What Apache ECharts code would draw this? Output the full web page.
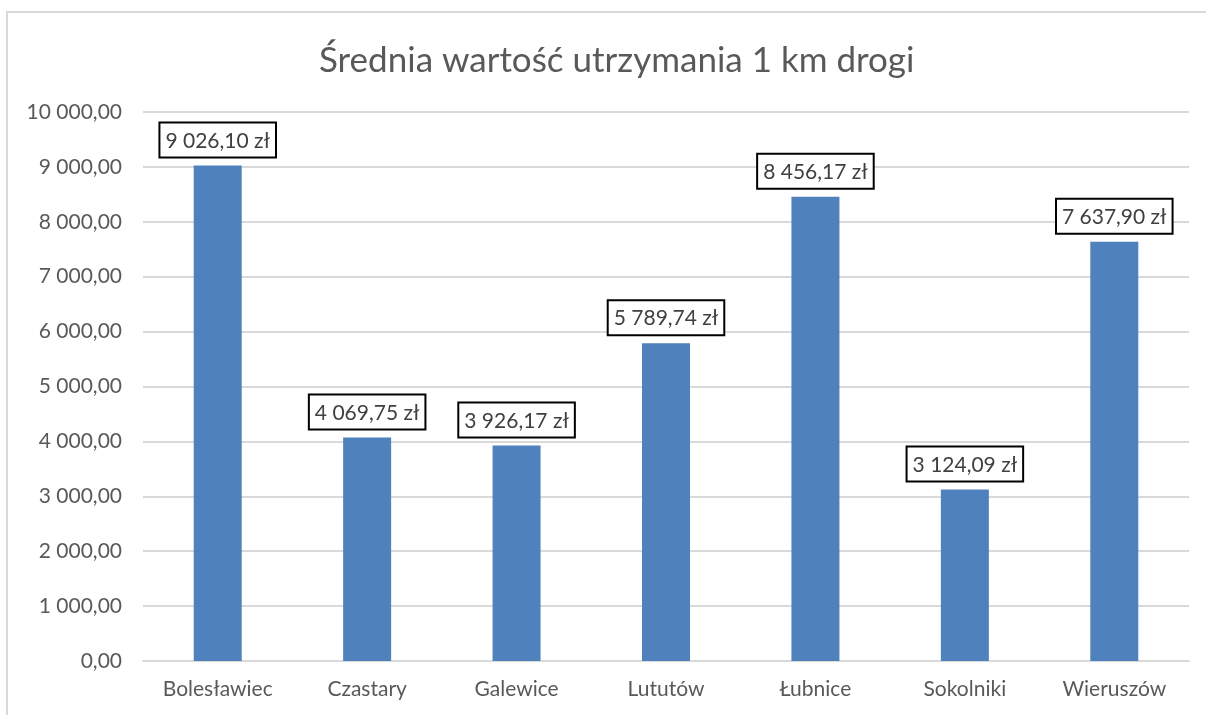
<!DOCTYPE html>
<html>
<head>
<meta charset="utf-8">
<script src="https://cdn.jsdelivr.net/npm/echarts@6/dist/echarts.min.js"></script>
<style>
html,body{margin:0;padding:0;background:#fff;}
#chart{width:1206px;height:715px;}
</style>
</head>
<body>
<div id="chart"></div>
<script>
const title = 'Średnia wartość utrzymania 1 km drogi';
const categories = ['Bolesławiec', 'Czastary', 'Galewice', 'Lututów', 'Łubnice', 'Sokolniki', 'Wieruszów'];
const values = [9026.10, 4069.75, 3926.17, 5789.74, 8456.17, 3124.09, 7637.90];
const yMin = 0, yMax = 10000, yStep = 1000;

function fmt(v) {
  const parts = v.toFixed(2).split('.');
  const intPart = parts[0].replace(/\B(?=(\d{3})+(?!\d))/g, ' ');
  return intPart + ',' + parts[1];
}

const FONT = 'Lato, "Noto Sans", sans-serif';
const chart = echarts.init(document.getElementById('chart'));
chart.setOption({
  animation: false,
  backgroundColor: '#ffffff',
  title: {
    text: title,
    left: 314,
    top: 38,
    textStyle: { fontFamily: FONT, fontSize: 35, fontWeight: 'normal', color: '#595959' }
  },
  graphic: [{
    type: 'rect',
    shape: { x: 7, y: 12, width: 1300, height: 800 },
    style: { fill: 'none', stroke: '#d9d9d9', lineWidth: 2 },
    silent: true
  }],
  grid: { left: 143, right: 17, top: 112, bottom: 54, containLabel: false },
  xAxis: {
    type: 'category',
    data: categories,
    axisLine: { lineStyle: { color: '#d9d9d9', width: 2 } },
    axisTick: { show: false },
    axisLabel: { fontFamily: FONT, fontSize: 21, color: '#595959', margin: 18, interval: 0 }
  },
  yAxis: {
    type: 'value',
    min: yMin, max: yMax, interval: yStep,
    axisLine: { show: false },
    axisTick: { show: false },
    splitLine: { lineStyle: { color: '#d9d9d9', width: 2 } },
    axisLabel: { fontFamily: FONT, fontSize: 21, color: '#595959', margin: 21, formatter: v => fmt(v) }
  },
  series: [{
    type: 'bar',
    data: values,
    barWidth: 48,
    itemStyle: { color: '#4f81bd' },
    label: {
      show: true,
      position: 'top',
      distance: 9,
      formatter: p => fmt(p.value) + ' zł',
      fontFamily: FONT,
      fontSize: 21,
      color: '#404040',
      backgroundColor: '#ffffff',
      borderColor: '#000000',
      borderWidth: 2,
      padding: [7, 5, 5, 5]
    }
  }]
});
</script>
</body>
</html>
